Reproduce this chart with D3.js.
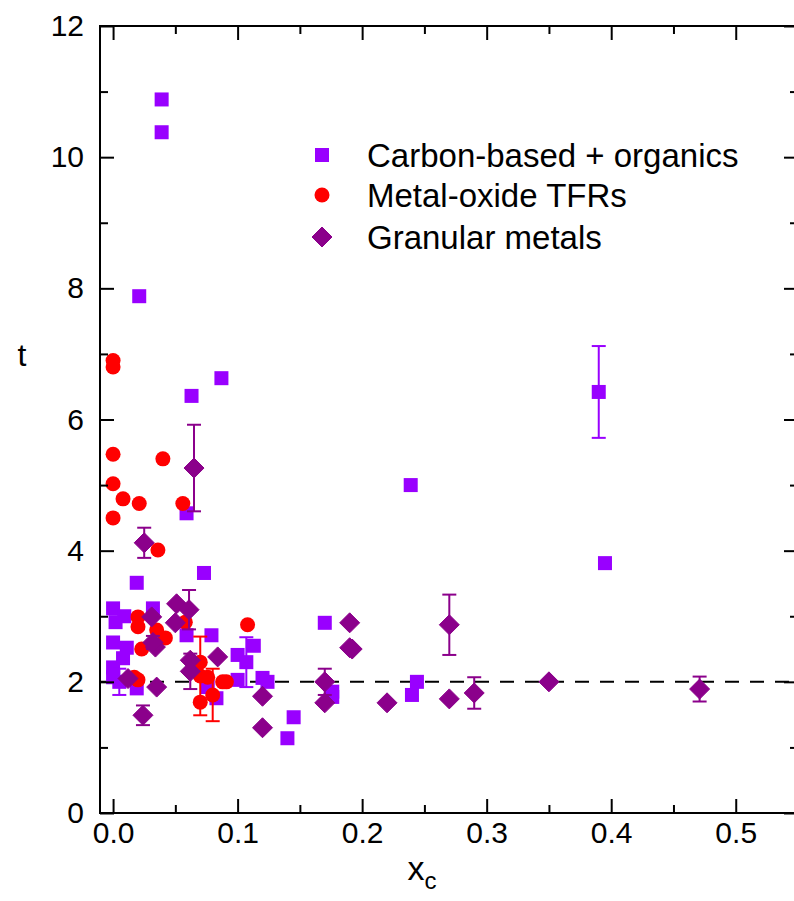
<!DOCTYPE html>
<html>
<head>
<meta charset="utf-8">
<script src="https://cdn.jsdelivr.net/npm/d3@7"></script>
<style>
  html, body { margin: 0; padding: 0; background: #fff; }
  svg { display: block; }
  text { font-family: "Liberation Sans", Arial, sans-serif; }
</style>
</head>
<body>
<svg id="chart" width="794" height="901"></svg>
<script>
// ---- data ----
const carbonX   = [0.039,0.039,0.021,0.087,0.063,0.059,0.073,0.019,0.239,0.39,0.395,0.0,0.009,0.032,0.002,0.059,0.079,0.0,0.011,0.008,0.0,0.0,0.005,0.019,0.1,0.107,0.113,0.1,0.12,0.124,0.083,0.076,0.145,0.14,0.17,0.176,0.176,0.244,0.24];
const carbonT   = [10.88,10.38,7.88,6.63,6.36,4.57,3.66,3.51,5.0,6.42,3.81,3.12,3.0,3.12,2.91,2.71,2.71,2.6,2.52,2.36,2.22,2.07,2.0,1.9,2.41,2.3,2.55,2.03,2.06,2.0,1.75,1.92,1.46,1.14,2.9,1.77,1.85,2.0,1.8];
const carbonErr = [0,0,0,0,0,0,0,0,0,0.7,0,0,0,0,0,0,0,0,0,0,0,0,0.2,0,0,0.38,0,0,0,0,0,0,0,0,0,0,0,0,0];

const oxideX   = [0.0,0.0,0.0,0.04,0.0,0.008,0.021,0.0,0.056,0.036,0.02,0.02,0.035,0.042,0.058,0.108,0.023,0.017,0.02,0.07,0.07,0.076,0.088,0.091,0.08,0.07];
const oxideT   = [6.9,6.8,5.47,5.4,5.02,4.79,4.72,4.5,4.72,4.01,2.99,2.84,2.79,2.67,2.91,2.87,2.5,2.07,2.03,2.3,2.09,2.07,2.0,2.0,1.8,1.69];
const oxideErr = [0,0,0,0,0,0,0,0,0,0,0,0,0,0,0,0,0,0,0,0,0.6,0,0,0,0.4,0];

const metalX   = [0.065,0.025,0.051,0.061,0.05,0.031,0.034,0.032,0.062,0.062,0.084,0.012,0.035,0.024,0.12,0.12,0.19,0.19,0.192,0.17,0.17,0.22,0.27,0.27,0.29,0.35,0.471];
const metalT   = [5.26,4.12,3.19,3.1,2.9,2.99,2.53,2.6,2.33,2.16,2.38,2.05,1.92,1.49,1.78,1.3,2.9,2.52,2.5,2.0,1.68,1.68,2.87,1.74,1.83,2.0,1.89];
const metalErr = [0.66,0.23,0,0.3,0,0,0,0.1,0,0.27,0,0,0,0.15,0,0,0,0,0,0.2,0,0,0.46,0,0.24,0,0.19];

const seriesNames = ["Carbon-based + organics", "Metal-oxide TFRs", "Granular metals"];
const xTicks = [0, 0.1, 0.2, 0.3, 0.4, 0.5];
const xMinor = [0.05, 0.15, 0.25, 0.35, 0.45, 0.55];
const yTicks = [0, 2, 4, 6, 8, 10, 12];
const yMinor = [1, 3, 5, 7, 9, 11];
const refT = 2;

// ---- layout ----
const svg = d3.select("#chart");
const L = 100, R = 798, T = 26, B = 813;
const x = d3.scaleLinear().domain([-0.0105, 0.55]).range([L, R]);
const y = d3.scaleLinear().domain([0, 12]).range([B, T]);

const colors = ["#9900ff", "#ff0000", "#8b008b"];

// reference dashed line
svg.append("line")
  .attr("x1", L).attr("x2", R)
  .attr("y1", y(refT)).attr("y2", y(refT))
  .attr("stroke", "#000").attr("stroke-width", 2)
  .attr("stroke-dasharray", "14,11");

function mk(xs, ts, es) { return xs.map((v, i) => ({x: v, t: ts[i], e: es[i]})); }
const series = [mk(carbonX, carbonT, carbonErr), mk(oxideX, oxideT, oxideErr), mk(metalX, metalT, metalErr)];

function drawMarker(g, type, cx, cy, color) {
  if (type === 0) {
    g.append("rect").attr("x", cx - 7).attr("y", cy - 7).attr("width", 14).attr("height", 14).attr("fill", color);
  } else if (type === 1) {
    g.append("circle").attr("cx", cx).attr("cy", cy).attr("r", 7.5).attr("fill", color);
  } else {
    const s = 10;
    g.append("path").attr("d", `M${cx},${cy - s}L${cx + s},${cy}L${cx},${cy + s}L${cx - s},${cy}Z`)
      .attr("fill", color).attr("stroke", color).attr("stroke-width", 1).attr("stroke-linejoin", "round");
  }
}

const pts = svg.append("g");
series.forEach((data, si) => {
  const g = pts.append("g");
  data.forEach(d => {
    if (d.e > 0) {
      const cx = x(d.x), y1 = y(d.t + d.e), y2 = y(d.t - d.e);
      g.append("line").attr("x1", cx).attr("x2", cx).attr("y1", y1).attr("y2", y2)
        .attr("stroke", colors[si]).attr("stroke-width", 2);
      [y1, y2].forEach(yy => g.append("line").attr("x1", cx - 7).attr("x2", cx + 7)
        .attr("y1", yy).attr("y2", yy).attr("stroke", colors[si]).attr("stroke-width", 2));
    }
    drawMarker(g, si, x(d.x), y(d.t), colors[si]);
  });
});

// ---- axes with inward ticks on all four sides ----
const fs = 30;
function styleAxis(g) {
  g.select(".domain").remove();
  g.selectAll(".tick line").attr("stroke", "#000").attr("stroke-width", 2);
  g.selectAll(".tick text").attr("font-size", fs).attr("fill", "#000")
    .attr("font-family", "Liberation Sans, Arial, sans-serif");
}
const fmtX = d => d3.format(".1f")(d);
svg.append("g").attr("transform", `translate(0,${B})`)
  .call(d3.axisBottom(x).tickValues(xTicks).tickFormat(fmtX).tickSizeInner(-14).tickSizeOuter(0).tickPadding(9))
  .call(styleAxis);
svg.append("g").attr("transform", `translate(0,${B})`)
  .call(d3.axisBottom(x).tickValues(xMinor).tickFormat("").tickSizeInner(-8).tickSizeOuter(0))
  .call(styleAxis);
svg.append("g").attr("transform", `translate(0,${T})`)
  .call(d3.axisTop(x).tickValues(xTicks).tickFormat("").tickSizeInner(-14).tickSizeOuter(0))
  .call(styleAxis);
svg.append("g").attr("transform", `translate(0,${T})`)
  .call(d3.axisTop(x).tickValues(xMinor).tickFormat("").tickSizeInner(-8).tickSizeOuter(0))
  .call(styleAxis);
svg.append("g").attr("transform", `translate(${L},0)`)
  .call(d3.axisLeft(y).tickValues(yTicks).tickFormat(d3.format("d")).tickSizeInner(-14).tickSizeOuter(0).tickPadding(16))
  .call(styleAxis);
svg.append("g").attr("transform", `translate(${L},0)`)
  .call(d3.axisLeft(y).tickValues(yMinor).tickFormat("").tickSizeInner(-8).tickSizeOuter(0))
  .call(styleAxis);
svg.append("g").attr("transform", `translate(${R},0)`)
  .call(d3.axisRight(y).tickValues(yTicks).tickFormat("").tickSizeInner(-14).tickSizeOuter(0))
  .call(styleAxis);
svg.append("g").attr("transform", `translate(${R},0)`)
  .call(d3.axisRight(y).tickValues(yMinor).tickFormat("").tickSizeInner(-8).tickSizeOuter(0))
  .call(styleAxis);

// frame
svg.append("rect").attr("x", L).attr("y", T).attr("width", R - L).attr("height", B - T)
  .attr("fill", "none").attr("stroke", "#000").attr("stroke-width", 2);

// axis titles
svg.append("text").attr("x", 22).attr("y", 355).attr("text-anchor", "middle")
  .attr("dominant-baseline", "central").attr("font-size", 32).text("t");
const xt = svg.append("text").attr("x", 422).attr("y", 880).attr("text-anchor", "middle").attr("font-size", 34);
xt.append("tspan").text("x");
xt.append("tspan").attr("font-size", 24).attr("dy", 9).text("c");

// legend
const legY = [155, 195, 237];
seriesNames.forEach((name, i) => {
  drawMarker(svg, i, 322, legY[i], colors[i]);
  svg.append("text").attr("x", 367).attr("y", legY[i]).attr("dominant-baseline", "central")
    .attr("font-size", 33).attr("fill", "#000").text(name);
});
</script>
</body>
</html>
